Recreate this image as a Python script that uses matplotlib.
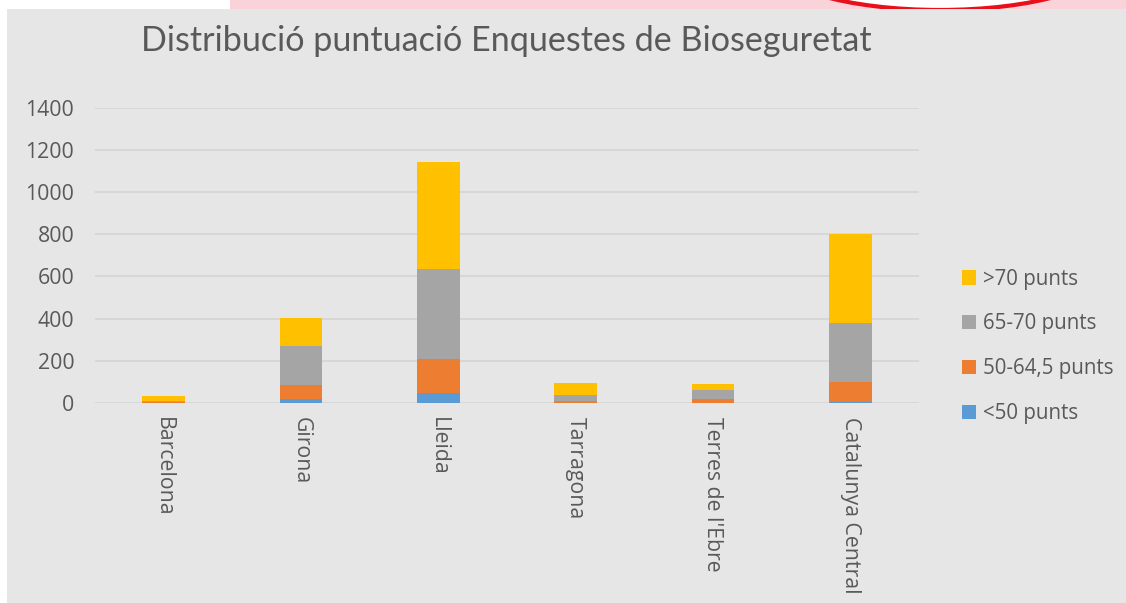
import matplotlib.pyplot as plt
import matplotlib.patches as mpatches
import numpy as np

# data
provinces = ['Barcelona', 'Girona', 'Lleida', 'Tarragona', "Terres de l'Ebre", 'Catalunya Central']
below_50 = [0, 17, 46, 1, 1, 3]
p50_64 = [3, 67, 161, 10, 18, 97]
p65_70 = [6, 188, 428, 28, 44, 278]
above_70 = [24, 131, 507, 54, 27, 422]
series_names = ['<50 punts', '50-64,5 punts', '65-70 punts', '>70 punts']
colors = ['#5B9BD5', '#ED7D31', '#A5A5A5', '#FFC000']
yticks = [0, 200, 400, 600, 800, 1000, 1200, 1400]

W, H = 1126, 603
text_col = '#595959'
plt.rcParams['font.family'] = ['Open Sans', 'DejaVu Sans']

fig = plt.figure(figsize=(W / 100, H / 100), dpi=100)
fig.patch.set_facecolor('white')

# slide background bits above the chart box
fig.patches.append(mpatches.Rectangle((230 / W, 1 - 10 / H), 1 - 230 / W, 10 / H,
                                      transform=fig.transFigure, facecolor='#F9D3D9',
                                      edgecolor='none', zorder=0))
fig.patches.append(mpatches.Ellipse((940 / W, 1 + 40 / H), 340 / W, 100 / H,
                                    transform=fig.transFigure, facecolor='white',
                                    edgecolor='#E8101A', linewidth=3, zorder=1))
# chart box
fig.patches.append(mpatches.Rectangle((7 / W, 0), 1 - 7 / W, 1 - 9 / H,
                                      transform=fig.transFigure, facecolor='#E6E6E6',
                                      edgecolor='none', zorder=2))

ax = fig.add_axes([95 / W, 1 - 403 / H, (919 - 95) / W, (403 - 107.5) / H])
ax.set_facecolor('none')
ax.set_zorder(3)

x = np.arange(len(provinces))
bottom = np.zeros(len(provinces))
handles = []
for vals, name, c in zip([below_50, p50_64, p65_70, above_70], series_names, colors):
    b = ax.bar(x, vals, width=0.313, bottom=bottom, color=c, label=name, zorder=3)
    handles.append(b)
    bottom += np.array(vals)

ax.set_xlim(-0.5, len(provinces) - 0.5)
ax.set_ylim(0, 1400)
ax.set_yticks(yticks)
ax.set_yticklabels([str(v) for v in yticks])
ax.yaxis.grid(True, color='#D6D6D6', linewidth=1.3, zorder=0)
ax.set_axisbelow(True)
for s in ax.spines.values():
    s.set_visible(False)
ax.tick_params(axis='both', length=0, labelsize=15.3, labelcolor=text_col)
ax.tick_params(axis='y', pad=15)
ax.set_xticks(x)
ax.set_xticklabels(provinces, rotation=-90, va='top', ha='center')
ax.tick_params(axis='x', pad=10)

fig.text(506 / W, 1 - 41 / H, 'Distribució puntuació Enquestes de Bioseguretat',
         ha='center', va='center', fontsize=24.6, color=text_col, family=['Lato', 'DejaVu Sans'],
         zorder=4)

leg = fig.legend(handles[::-1], series_names[::-1], loc='upper left',
                 bbox_to_anchor=(943 / W, 1 - 250 / H), frameon=False,
                 fontsize=14.8, labelcolor=text_col, handlelength=0.7, handleheight=0.7,
                 handletextpad=0.35, labelspacing=1.16)
leg.set_zorder(5)

fig.savefig('out.png', dpi=100)
